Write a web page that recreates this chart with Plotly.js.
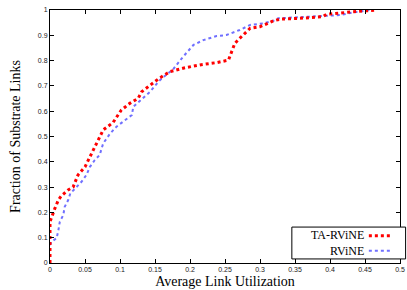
<!DOCTYPE html>
<html>
<head>
<meta charset="utf-8">
<script src="https://cdn.plot.ly/plotly-3.0.1.min.js"></script>
<style>html,body{margin:0;padding:0;background:#fff;}#chart{width:407px;height:290px;}</style>
</head>
<body>
<div id="chart"></div>
<script>
var seriesNames = ["TA-RViNE", "RViNE"];
var taX = [0, 0, 0.007, 0.012, 0.016, 0.026, 0.033, 0.040, 0.050, 0.057, 0.064, 0.076, 0.090, 0.102, 0.114, 0.126, 0.131, 0.143, 0.156, 0.171, 0.190, 0.214, 0.238, 0.255, 0.260, 0.264, 0.271, 0.281, 0.286, 0.300, 0.319, 0.329, 0.357, 0.390, 0.395, 0.433, 0.467];
var taY = [0, 0.163, 0.216, 0.249, 0.265, 0.289, 0.300, 0.348, 0.380, 0.420, 0.460, 0.526, 0.555, 0.605, 0.631, 0.651, 0.677, 0.704, 0.730, 0.756, 0.770, 0.783, 0.792, 0.802, 0.842, 0.868, 0.888, 0.914, 0.928, 0.934, 0.957, 0.964, 0.967, 0.974, 0.983, 0.993, 1.0];
var rvX = [0, 0, 0.002, 0.0095, 0.012, 0.014, 0.019, 0.021, 0.026, 0.029, 0.036, 0.045, 0.052, 0.057, 0.064, 0.071, 0.076, 0.086, 0.095, 0.107, 0.117, 0.119, 0.129, 0.143, 0.155, 0.160, 0.176, 0.190, 0.205, 0.219, 0.238, 0.252, 0.271, 0.286, 0.305, 0.319, 0.326, 0.348, 0.386, 0.414, 0.433, 0.457];
var rvY = [0, 0.071, 0.084, 0.098, 0.130, 0.163, 0.190, 0.222, 0.249, 0.275, 0.295, 0.321, 0.348, 0.380, 0.407, 0.427, 0.473, 0.512, 0.539, 0.565, 0.585, 0.618, 0.644, 0.677, 0.717, 0.730, 0.766, 0.815, 0.862, 0.881, 0.897, 0.901, 0.921, 0.941, 0.947, 0.957, 0.967, 0.970, 0.976, 0.980, 0.990, 1.0];
var xTicks = [0, 0.05, 0.1, 0.15, 0.2, 0.25, 0.3, 0.35, 0.4, 0.45, 0.5];
var xTickText = ["0", "0.05", "0.1", "0.15", "0.2", "0.25", "0.3", "0.35", "0.4", "0.45", "0.5"];
var yTicks = [0, 0.1, 0.2, 0.3, 0.4, 0.5, 0.6, 0.7, 0.8, 0.9, 1];
var yTickText = ["0", "0.1", "0.2", "0.3", "0.4", "0.5", "0.6", "0.7", "0.8", "0.9", "1"];

var redC = "#ff0000", blueC = "#7070ff";
var traces = [
  {x: rvX, y: rvY, type: "scatter", mode: "lines", name: seriesNames[1], line: {color: blueC, width: 2, dash: "dot"}},
  {x: taX, y: taY, type: "scatter", mode: "lines", name: seriesNames[0], line: {color: redC, width: 3, dash: "dot"}}
];
var tickFont = {family: "Liberation Sans, Arial, sans-serif", size: 7, color: "#222"};
var titleFont = {family: "Liberation Serif, Times New Roman, serif", size: 14, color: "#000"};
var legFont = {family: "Liberation Serif, Times New Roman, serif", size: 12, color: "#000"};
var layout = {
  width: 407, height: 290,
  margin: {l: 50, r: 7, t: 10, b: 27, pad: 0},
  paper_bgcolor: "#fff", plot_bgcolor: "#fff",
  showlegend: false,
  xaxis: {range: [0, 0.5], tickvals: xTicks, ticktext: xTickText, ticks: "inside", ticklen: 4, tickwidth: 1, tickcolor: "#000",
          showline: true, linecolor: "#000", linewidth: 1, mirror: "allticks", showgrid: false, zeroline: false,
          tickfont: tickFont, title: {text: "Average Link Utilization", font: titleFont, standoff: 3}},
  yaxis: {range: [0, 1], tickvals: yTicks, ticktext: yTickText, ticks: "inside", ticklen: 4, tickwidth: 1, tickcolor: "#000",
          showline: true, linecolor: "#000", linewidth: 1, mirror: "allticks", showgrid: false, zeroline: false,
          tickfont: tickFont, title: {text: "Fraction of Substrate Links", font: titleFont, standoff: 13}},
  shapes: [
    {type: "rect", xref: "paper", yref: "paper", x0: 0.691, x1: 1.016, y0: 0.016, y1: 0.142, line: {color: "#000", width: 1}, fillcolor: "#fff", layer: "above"},
    {type: "line", xref: "paper", yref: "paper", x0: 0.911, x1: 0.977, y0: 0.108, y1: 0.108, line: {color: redC, width: 3, dash: "dot"}, layer: "above"},
    {type: "line", xref: "paper", yref: "paper", x0: 0.911, x1: 0.977, y0: 0.048, y1: 0.048, line: {color: blueC, width: 2, dash: "dot"}, layer: "above"}
  ],
  annotations: [
    {xref: "paper", yref: "paper", x: 0.900, y: 0.079, xanchor: "right", yanchor: "middle", align: "right",
     text: seriesNames[0] + "<br>" + seriesNames[1], showarrow: false, borderpad: 0, font: legFont}
  ]
};
Plotly.newPlot("chart", traces, layout, {displayModeBar: false, staticPlot: true});
</script>
</body>
</html>
